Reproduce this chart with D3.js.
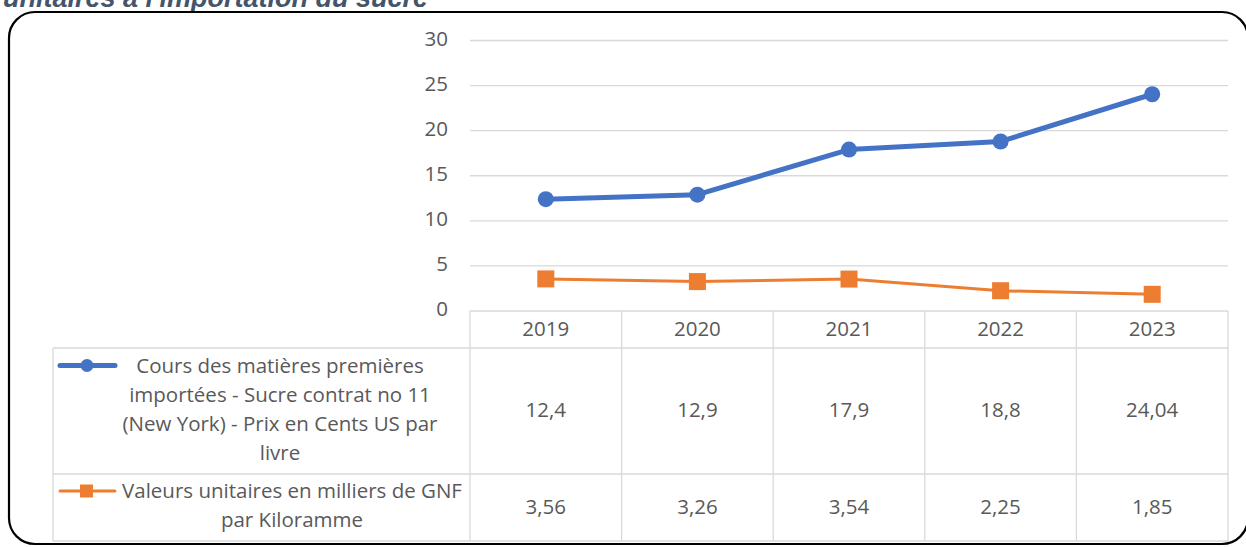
<!DOCTYPE html>
<html>
<head>
<meta charset="utf-8">
<script src="https://cdn.jsdelivr.net/npm/d3@7"></script>
<style>
  html, body { margin: 0; padding: 0; background: #fff; overflow: hidden; }
</style>
</head>
<body>
<div id="chart"></div>
<script>
const years = ["2019", "2020", "2021", "2022", "2023"];
const coursSucre = [12.4, 12.9, 17.9, 18.8, 24.04];
const valeursGNF = [3.56, 3.26, 3.54, 2.25, 1.85];
const yTicks = [0, 5, 10, 15, 20, 25, 30];
const coursLabel = ["Cours des matières premières", "importées - Sucre contrat no 11", "(New York) - Prix en Cents US par", "livre"];
const gnfLabel = ["Valeurs unitaires en milliers de GNF", "par Kiloramme"];
const titleText = "unitaires à l'importation du sucre";

const width = 1246, height = 547;
const gray = "#595959";
const gridColor = "#d9d9d9";
const font = "'Open Sans', 'Noto Sans', sans-serif";
const fontSize = "20.5px";

const svg = d3.select("#chart").append("svg").attr("width", width).attr("height", height);

// title, cut at the top like the original
svg.append("text")
  .attr("x", 3)
  .attr("y", 7)
  .attr("font-family", "'Liberation Sans', Arial, sans-serif")
  .attr("font-size", "27px")
  .attr("font-weight", "bold")
  .attr("font-style", "italic")
  .attr("fill", "#44546A")
  .text(titleText);

// rounded frame
svg.append("rect")
  .attr("x", 9).attr("y", 12)
  .attr("width", 1239).attr("height", 532)
  .attr("rx", 26).attr("ry", 26)
  .attr("fill", "none")
  .attr("stroke", "#000")
  .attr("stroke-width", 2.2);

const x = d3.scaleBand().domain(years).range([470, 1228]);
const y = d3.scaleLinear().domain([0, 30]).range([311, 40.5]);

// gridlines
svg.selectAll(".grid")
  .data(yTicks.filter((d) => d > 0))
  .enter()
  .append("line")
  .attr("x1", 470).attr("x2", 1228)
  .attr("y1", (d) => y(d)).attr("y2", (d) => y(d))
  .attr("stroke", gridColor)
  .attr("stroke-width", 1.3);

// y axis labels
svg.selectAll(".ytick")
  .data(yTicks)
  .enter()
  .append("text")
  .attr("x", 448)
  .attr("y", (d) => y(d))
  .attr("text-anchor", "end")
  .attr("dominant-baseline", "middle")
  .attr("font-family", font)
  .attr("font-size", fontSize)
  .attr("fill", gray)
  .text((d) => d);

// data table
const tableLeft = 53, tableRight = 1228;
const rowTops = [311, 348, 474, 541];

const tbl = svg.append("g").attr("stroke", gridColor).attr("stroke-width", 1.3);
tbl.append("line").attr("x1", 470).attr("x2", tableRight).attr("y1", rowTops[0]).attr("y2", rowTops[0]);
rowTops.slice(1).forEach((ry) => {
  tbl.append("line").attr("x1", tableLeft).attr("x2", tableRight).attr("y1", ry).attr("y2", ry);
});
tbl.append("line").attr("x1", tableLeft).attr("x2", tableLeft).attr("y1", rowTops[1]).attr("y2", rowTops[3]);
years.forEach((yr) => {
  tbl.append("line").attr("x1", x(yr)).attr("x2", x(yr)).attr("y1", rowTops[0]).attr("y2", rowTops[3]);
});
tbl.append("line").attr("x1", tableRight).attr("x2", tableRight).attr("y1", rowTops[0]).attr("y2", rowTops[3]);

// year header
svg.selectAll(".year")
  .data(years)
  .enter()
  .append("text")
  .attr("x", (d) => x(d) + x.bandwidth() / 2)
  .attr("y", (rowTops[0] + rowTops[1]) / 2 + 1)
  .attr("text-anchor", "middle")
  .attr("dominant-baseline", "middle")
  .attr("font-family", font)
  .attr("font-size", fontSize)
  .attr("fill", gray)
  .text((d) => d);

const fmt = (v) => String(v).replace(".", ",");

const series = [
  { values: coursSucre, color: "#4472C4", width: 5, marker: "circle", label: coursLabel, textX: 280, row: 1 },
  { values: valeursGNF, color: "#ED7D31", width: 3, marker: "square", label: gnfLabel, textX: 292, row: 2 },
];

series.forEach((s) => {
  const pts = s.values.map((v, i) => [x(years[i]) + x.bandwidth() / 2, y(v)]);

  svg.append("path")
    .attr("d", d3.line()(pts))
    .attr("fill", "none")
    .attr("stroke", s.color)
    .attr("stroke-width", s.width)
    .attr("stroke-linejoin", "round");

  if (s.marker === "circle") {
    svg.selectAll(null).data(pts).enter().append("circle")
      .attr("cx", (d) => d[0]).attr("cy", (d) => d[1]).attr("r", 8)
      .attr("fill", s.color);
  } else {
    svg.selectAll(null).data(pts).enter().append("rect")
      .attr("x", (d) => d[0] - 8.5).attr("y", (d) => d[1] - 8.5)
      .attr("width", 17).attr("height", 17)
      .attr("fill", s.color);
  }

  const top = rowTops[s.row], bottom = rowTops[s.row + 1];
  const midY = (top + bottom) / 2;

  // values in the table
  svg.selectAll(null).data(s.values).enter().append("text")
    .attr("x", (d, i) => x(years[i]) + x.bandwidth() / 2)
    .attr("y", midY + 1)
    .attr("text-anchor", "middle")
    .attr("dominant-baseline", "middle")
    .attr("font-family", font)
    .attr("font-size", fontSize)
    .attr("fill", gray)
    .text((d) => fmt(d));

  // legend key
  const lineH = 29;
  const firstY = midY - (s.label.length - 1) * lineH / 2;
  const keyY = firstY - 2;
  svg.append("line")
    .attr("x1", 60).attr("x2", 115).attr("y1", keyY).attr("y2", keyY)
    .attr("stroke", s.color).attr("stroke-width", s.width).attr("stroke-linecap", "round");
  if (s.marker === "circle") {
    svg.append("circle").attr("cx", 87).attr("cy", keyY).attr("r", 6.5).attr("fill", s.color);
  } else {
    svg.append("rect").attr("x", 80).attr("y", keyY - 6.5).attr("width", 13).attr("height", 13).attr("fill", s.color);
  }

  svg.append("g").selectAll("text").data(s.label).enter().append("text")
    .attr("x", s.textX)
    .attr("y", (d, i) => firstY + i * lineH)
    .attr("text-anchor", "middle")
    .attr("dominant-baseline", "middle")
    .attr("font-family", font)
    .attr("font-size", fontSize)
    .attr("fill", gray)
    .text((d) => d);
});
</script>
</body>
</html>
